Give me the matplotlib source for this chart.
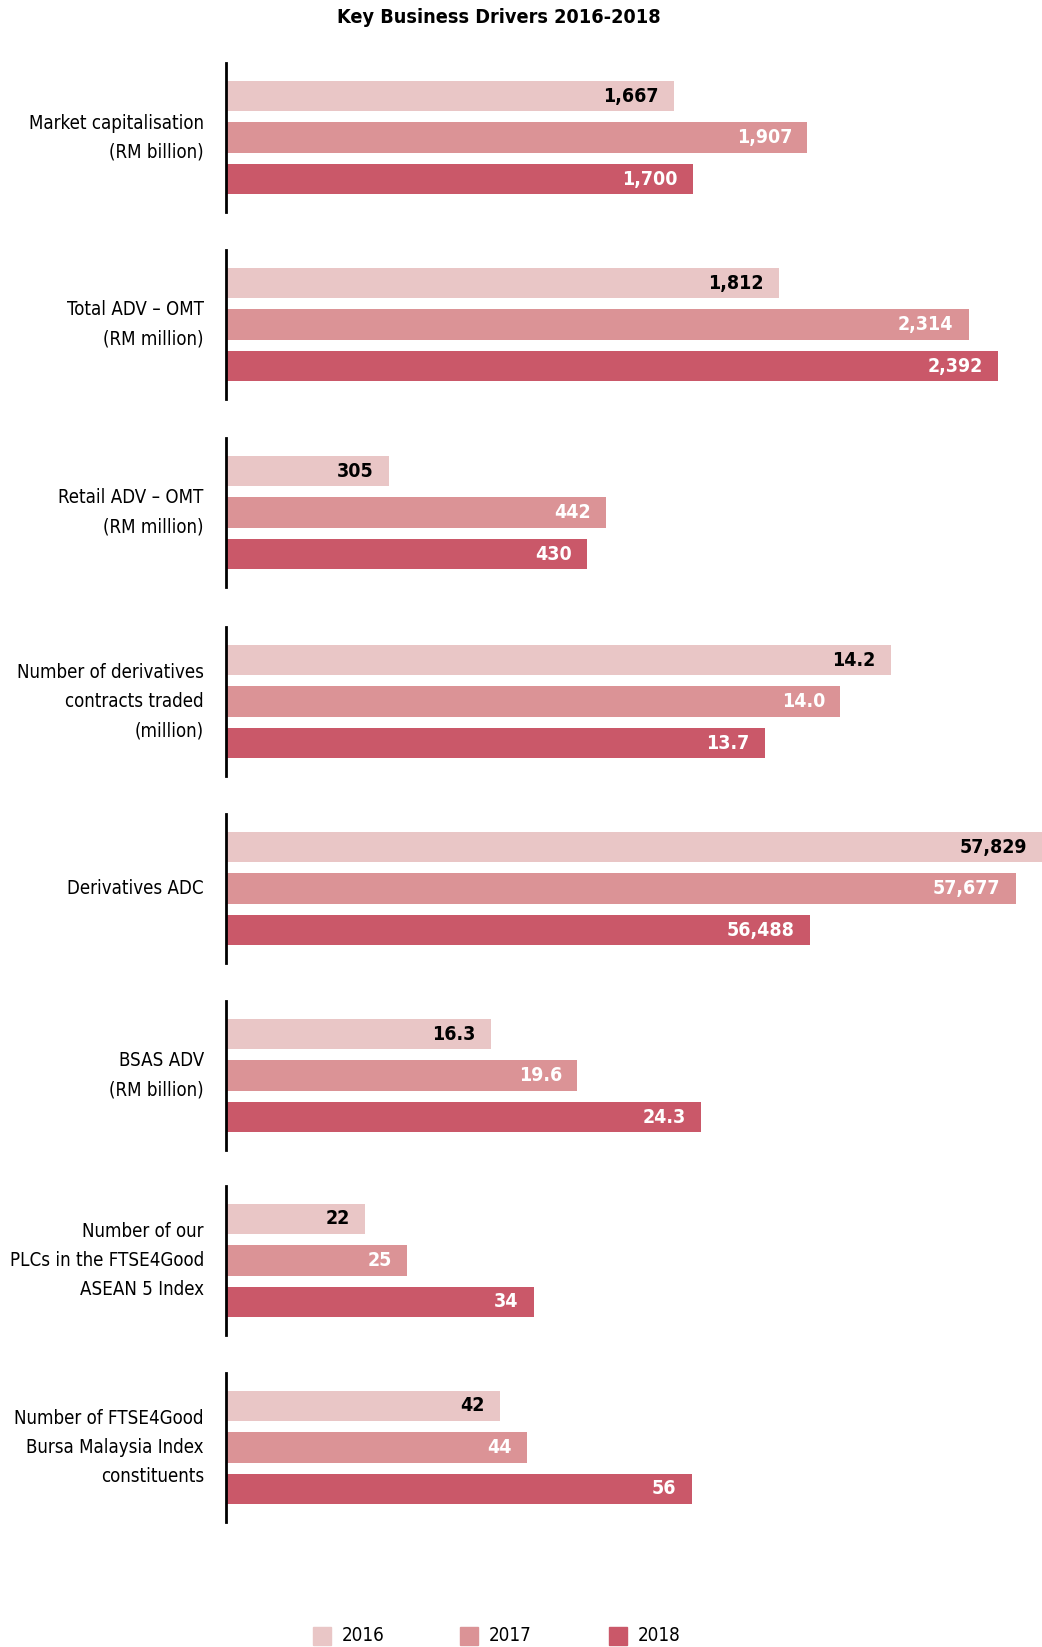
import matplotlib
matplotlib.use('Agg')
import matplotlib.pyplot as plt
from matplotlib.patches import Rectangle

plt.rcParams['font.family'] = ['DejaVu Sans']
plt.rcParams['font.stretch'] = 'condensed'

years = ['2016', '2017', '2018']
colors = ['#E9C6C6', '#DB9396', '#CA5869']
text_colors = ['black', 'white', 'white']

categories = [
    'Market capitalisation\n(RM billion)',
    'Total ADV \u2013 OMT\n(RM million)',
    'Retail ADV \u2013 OMT\n(RM million)',
    'Number of derivatives\ncontracts traded\n(million)',
    'Derivatives ADC',
    'BSAS ADV\n(RM billion)',
    'Number of our\nPLCs in the FTSE4Good\nASEAN 5 Index',
    'Number of FTSE4Good\nBursa Malaysia Index\nconstituents',
]
values = [
    [1667, 1907, 1700],
    [1812, 2314, 2392],
    [305, 442, 430],
    [14.2, 14.0, 13.7],
    [57829, 57677, 56488],
    [16.3, 19.6, 24.3],
    [22, 25, 34],
    [42, 44, 56],
]
labels = [
    ['1,667', '1,907', '1,700'],
    ['1,812', '2,314', '2,392'],
    ['305', '442', '430'],
    ['14.2', '14.0', '13.7'],
    ['57,829', '57,677', '56,488'],
    ['16.3', '19.6', '24.3'],
    ['22', '25', '34'],
    ['42', '44', '56'],
]
# each panel has its own (non-zero) axis window, as in the original
xlims = [
    (857, 2331),
    (350, 2508),
    (202, 717),
    (11.56, 14.8),
    (53120, 57829),
    (6.2, 37.3),
    (12.1, 70.1),
    (22.06, 81.5),
]

W, H = 992.0, 1568.0  # layout worked out on the shrunk picture
fig = plt.figure(figsize=(10.42, 16.47), dpi=100)

fig.text(475 / W, 1 - 17 / H, 'Key Business Drivers 2016-2018', ha='center', va='center',
         fontsize=14.2, fontweight='bold')

tops = [60, 238, 417, 597, 775, 953, 1129, 1307]
ax_h = 142
x0 = 215

for i in range(len(categories)):
    ax = fig.add_axes([x0 / W, 1 - (tops[i] + ax_h) / H, (W - x0) / W, ax_h / H])
    ax.barh([0, 1, 2], values[i], height=0.734, color=colors)
    ax.set_xlim(*xlims[i])
    ax.set_ylim(1 + 71 / 39.5, 1 - 71 / 39.5)
    for j in range(3):
        ax.annotate(labels[i][j], (values[i][j], j), xytext=(-11, 0), textcoords='offset points',
                    ha='right', va='center', fontsize=14, fontweight='bold', color=text_colors[j],
                    annotation_clip=False)
    for s in ['top', 'right', 'bottom']:
        ax.spines[s].set_visible(False)
    ax.spines['left'].set_linewidth(2)
    ax.spines['left'].set_color('black')
    ax.set_xticks([])
    ax.set_yticks([])
    ax.patch.set_alpha(0)
    fig.text(194 / W, 1 - (tops[i] + ax_h / 2) / H, categories[i], ha='right', va='center',
             fontsize=13.4, linespacing=1.68)

# legend
leg_x = [298, 438, 580]
for k in range(3):
    fig.patches.append(Rectangle((leg_x[k] / W, 1 - 1566 / H), 17 / W, 17 / H,
                                 transform=fig.transFigure, color=colors[k]))
    fig.text((leg_x[k] + 27) / W, 1 - 1557 / H, years[k], ha='left', va='center', fontsize=13.5)

fig.savefig('out.png', dpi=100)
